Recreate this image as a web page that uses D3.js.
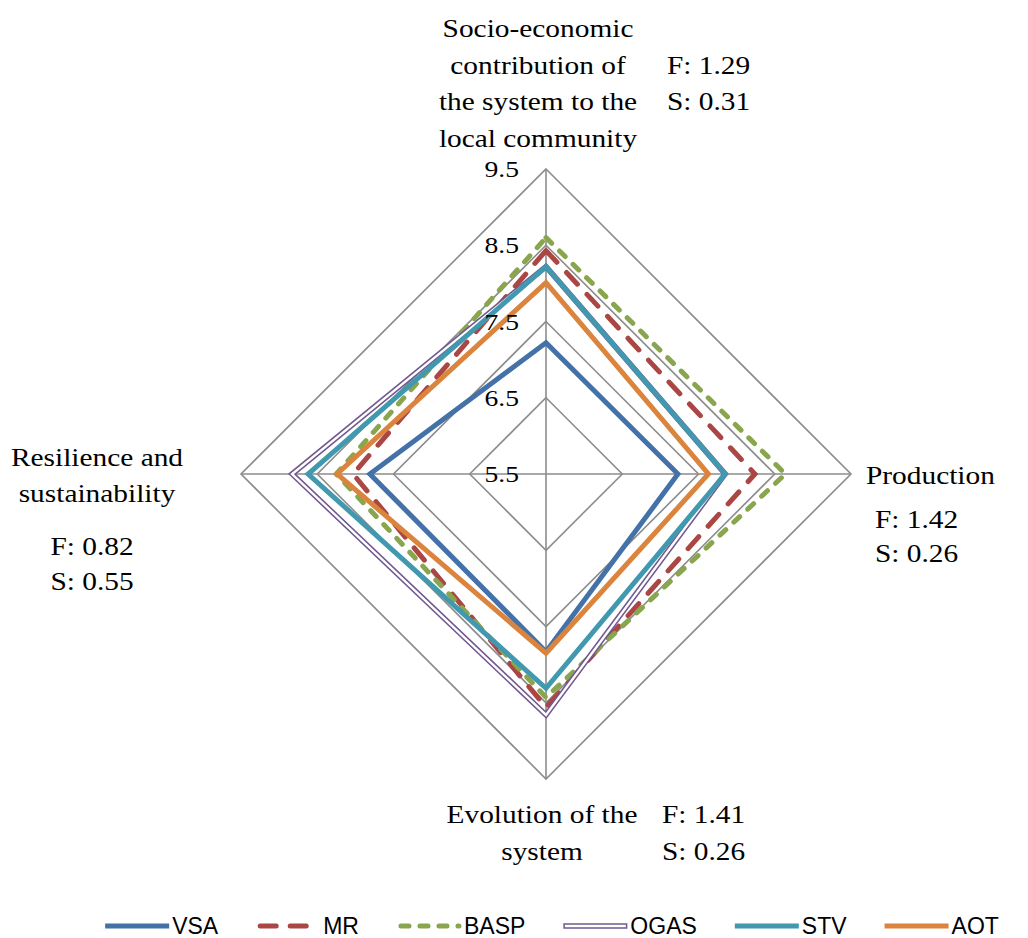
<!DOCTYPE html>
<html>
<head>
<meta charset="utf-8">
<script src="https://cdn.jsdelivr.net/npm/d3@7"></script>
<style>
  html, body { margin: 0; padding: 0; background: #fff; }
  svg { display: block; }
</style>
</head>
<body>
<svg id="chart" width="1028" height="938"></svg>
<script>
// ---------- DATA ----------
const axisNames = [
  "Socio-economic contribution of the system to the local community",
  "Production",
  "Evolution of the system",
  "Resilience and sustainability"
];
const ticks = [5.5, 6.5, 7.5, 8.5, 9.5];
const seriesNames = ["VSA", "MR", "BASP", "OGAS", "STV", "AOT"];
const VSA  = [7.22, 7.23, 7.83, 7.81];
const MR   = [8.43, 8.24, 8.56, 8.03];
const BASP = [8.60, 8.64, 8.43, 8.25];
const OGAS = [8.22, 7.85, 8.66, 8.83];
const STV  = [8.22, 7.85, 8.31, 8.62];
const AOT  = [8.01, 7.63, 7.85, 8.24];
const statsF = ["1.29", "1.42", "1.41", "0.82"];
const statsS = ["0.31", "0.26", "0.26", "0.55"];

const seriesValues = [VSA, MR, BASP, OGAS, STV, AOT];
const colors = ["#4472A8", "#AA4643", "#89A54E", "#71588F", "#4198AF", "#DB843D"];
const styles = ["solid", "dash", "dot", "double", "solid", "solid"];

// ---------- LAYOUT ----------
const svg = d3.select("#chart");
const cx = 546, cy = 474, R = 305;
const serif = "'Liberation Serif', 'Times New Roman', serif";
const sans = "'Liberation Sans Narrow', 'Liberation Sans', Arial, sans-serif";

const r = d3.scaleLinear().domain([5.5, 9.5]).range([0, R]);
const angle = d3.scalePoint().domain(d3.range(axisNames.length)).range([0, 2 * Math.PI * 3 / 4]);
const pt = (i, v) => {
  const a = angle(i) - Math.PI / 2;
  return [cx + r(v) * Math.cos(a), cy + r(v) * Math.sin(a)];
};

const g = svg.append("g");

// grid rings
ticks.filter(t => t > 5.5).forEach(t => {
  g.append("path")
    .attr("d", d3.line()(d3.range(axisNames.length).map(i => pt(i, t))) + "Z")
    .attr("fill", "none").attr("stroke", "#8c8c8c").attr("stroke-width", 1.6);
});
// spokes
d3.range(axisNames.length).forEach(i => {
  const [x, y] = pt(i, 9.5);
  g.append("line").attr("x1", cx).attr("y1", cy).attr("x2", x).attr("y2", y)
    .attr("stroke", "#8c8c8c").attr("stroke-width", 1.6);
});

// series
const radarLine = vals => d3.line()(vals.map((v, i) => pt(i, v))) + "Z";
seriesValues.forEach((vals, k) => {
  const st = styles[k];
  const p = g.append("path").attr("d", radarLine(vals))
    .attr("fill", "none").attr("stroke", colors[k])
    .attr("stroke-linejoin", "miter");
  if (st === "solid") {
    p.attr("stroke-width", 5);
  } else if (st === "dash") {
    p.attr("stroke-width", 5).attr("stroke-dasharray", "16,14").attr("stroke-linecap", "round");
  } else if (st === "dot") {
    p.attr("stroke-width", 5).attr("stroke-dasharray", "8,11").attr("stroke-linecap", "round");
  } else if (st === "double") {
    p.attr("stroke-width", 5.5);
    g.append("path").attr("d", radarLine(vals))
      .attr("fill", "none").attr("stroke", "#fff").attr("stroke-width", 2.4);
  }
});

// text helper: serif text horizontally widened to mimic Palatino
function stext(x, y, s, anchor, size, sx) {
  g.append("g").attr("transform", `translate(${x},${y}) scale(${sx},1)`)
    .append("text").attr("x", 0).attr("y", 0).attr("text-anchor", anchor)
    .attr("font-family", serif).attr("font-size", size).attr("fill", "#000").text(s);
}

// tick labels
ticks.forEach(t => stext(519, cy - r(t) + 8, t.toFixed(1), "end", 24, 1.15));

// axis titles
const fs = 26, sx = 1.13;
function lines(x, ys, arr, anchor) {
  arr.forEach((s, j) => stext(x, ys[j], s, anchor, fs, sx));
}
lines(538, [37, 73.5, 110, 146.5], ["Socio-economic", "contribution of", "the system to the", "local community"], "middle");
lines(667, [73.5, 110], ["F: " + statsF[0], "S: " + statsS[0]], "start");

lines(866, [484], [axisNames[1]], "start");
lines(875, [528, 562], ["F: " + statsF[1], "S: " + statsS[1]], "start");

lines(542, [823, 860], ["Evolution of the", "system"], "middle");
lines(662, [823, 860], ["F: " + statsF[2], "S: " + statsS[2]], "start");

lines(97, [466, 502], ["Resilience and", "sustainability"], "middle");
lines(92, [555, 590], ["F: " + statsF[3], "S: " + statsS[3]], "middle");

// legend
const leg = svg.append("g");
const sampleW = 64, legY = 926;
let x = 0;
seriesNames.forEach((name, k) => {
  const it = leg.append("g");
  const st = styles[k];
  const ln = it.append("line").attr("x1", 0).attr("x2", sampleW).attr("y1", legY).attr("y2", legY)
    .attr("stroke", colors[k]).attr("stroke-width", 5);
  if (st === "dash") ln.attr("x1", 4).attr("x2", sampleW - 2).attr("stroke-dasharray", "16,14").attr("stroke-linecap", "round");
  if (st === "dot") ln.attr("x1", 4).attr("x2", sampleW - 2).attr("stroke-dasharray", "8,11").attr("stroke-linecap", "round");
  if (st === "double") {
    ln.attr("stroke-width", 5.5);
    it.append("line").attr("x1", 1.5).attr("x2", sampleW - 1.5).attr("y1", legY).attr("y2", legY)
      .attr("stroke", "#fff").attr("stroke-width", 2.4);
  }
  const tx = it.append("text").attr("x", sampleW + 3).attr("y", legY + 8)
    .attr("font-family", sans).attr("font-size", 23).attr("fill", "#000").text(name);
  const w = sampleW + 3 + tx.node().getComputedTextLength();
  it.attr("transform", `translate(${x},0)`);
  x += w + 38;
});
const totalW = x - 38;
leg.attr("transform", `translate(${552 - totalW / 2},0)`);
</script>
</body>
</html>
